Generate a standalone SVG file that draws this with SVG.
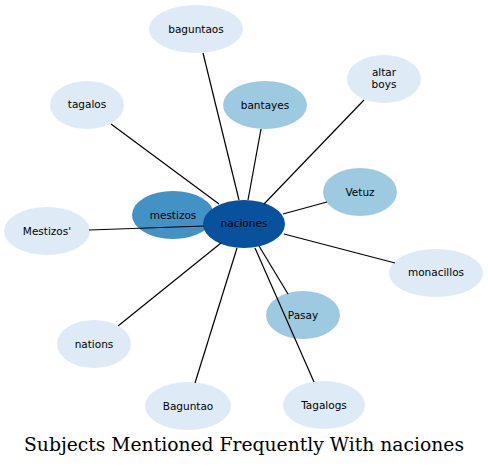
<svg xmlns="http://www.w3.org/2000/svg" width="488" height="467" viewBox="0 0 488 467">
<style>
.n text{font-family:"DejaVu Sans",sans-serif;font-size:10.5px;text-anchor:middle;fill:#000}
.l1{fill:#deebf7}.l2{fill:#9ecae1}.l3{fill:#4292c6}.l4{fill:#08519c}
#edges line{stroke:#000;stroke-width:1.2}
.title{font-family:"DejaVu Serif",serif;font-size:18.6px;text-anchor:middle}
</style>
<rect width="488" height="467" fill="#fff"/>
<g class="n" id="node-baguntaos"><ellipse class="l1" cx="196" cy="29" rx="47" ry="24"/><text x="196" y="33">baguntaos</text></g>
<g class="n" id="node-bantayes"><ellipse class="l2" cx="265" cy="105" rx="42" ry="24"/><text x="265" y="109">bantayes</text></g>
<g class="n" id="node-altarboys"><ellipse class="l1" cx="384" cy="79" rx="37" ry="24"/><text x="384" y="76">altar</text><text x="384" y="88">boys</text></g>
<g class="n" id="node-tagalos"><ellipse class="l1" cx="87" cy="105" rx="37" ry="24"/><text x="87" y="108">tagalos</text></g>
<g class="n" id="node-vetuz"><ellipse class="l2" cx="360" cy="192" rx="37" ry="24"/><text x="360" y="196">Vetuz</text></g>
<g class="n" id="node-mestizosq"><ellipse class="l1" cx="47" cy="231" rx="43" ry="24"/><text x="47" y="235">Mestizos'</text></g>
<g class="n" id="node-monacillos"><ellipse class="l1" cx="436" cy="273" rx="47" ry="24"/><text x="436" y="276">monacillos</text></g>
<g class="n" id="node-pasay"><ellipse class="l2" cx="303" cy="315" rx="37" ry="24"/><text x="303" y="319">Pasay</text></g>
<g class="n" id="node-nations"><ellipse class="l1" cx="94" cy="344" rx="37" ry="24"/><text x="94" y="348">nations</text></g>
<g class="n" id="node-baguntao"><ellipse class="l1" cx="188" cy="406" rx="43" ry="24"/><text x="188" y="410">Baguntao</text></g>
<g class="n" id="node-tagalogs"><ellipse class="l1" cx="324" cy="405" rx="41" ry="24"/><text x="324" y="409">Tagalogs</text></g>
<g class="n" id="node-mestizos"><ellipse class="l3" cx="173" cy="215" rx="41" ry="24"/><text x="173" y="219">mestizos</text></g>
<g class="n" id="node-naciones"><ellipse class="l4" cx="244" cy="224" rx="41" ry="24"/><text x="244" y="227">naciones</text></g>
<g id="edges">
<line x1="203" y1="53" x2="239" y2="200"/>
<line x1="261" y1="129" x2="248" y2="200"/>
<line x1="364" y1="100" x2="264" y2="204"/>
<line x1="111" y1="124" x2="219" y2="204"/>
<line x1="327" y1="202" x2="283" y2="214"/>
<line x1="89" y1="230" x2="204" y2="226"/>
<line x1="395" y1="263" x2="284" y2="234"/>
<line x1="288" y1="294" x2="259" y2="246"/>
<line x1="314" y1="382" x2="255" y2="248"/>
<line x1="195" y1="383" x2="237" y2="248"/>
<line x1="118" y1="326" x2="221" y2="243"/>
</g>
<text class="title" x="244" y="451" textLength="440" lengthAdjust="spacingAndGlyphs">Subjects Mentioned Frequently With naciones</text>
</svg>
